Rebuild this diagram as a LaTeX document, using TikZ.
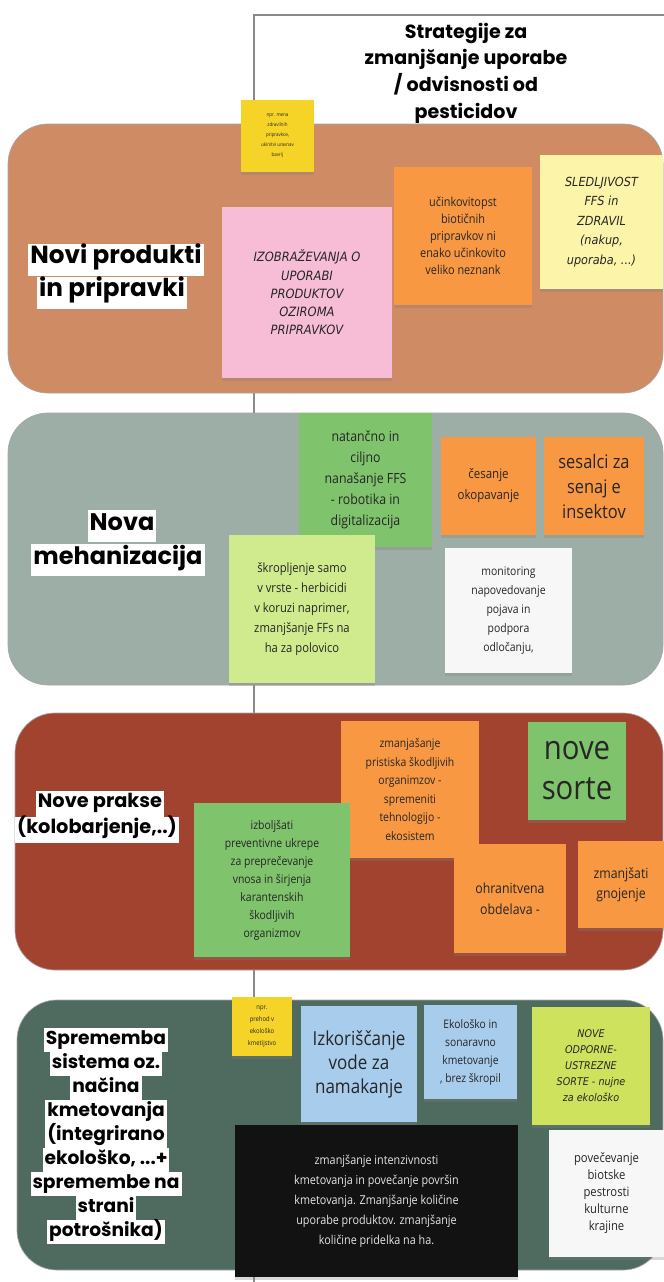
\documentclass[tikz,border=0pt]{standalone}
\usepackage{fontspec}
\setmainfont{Open Sans}
\newfontfamily\pop{Poppins}
\newfontfamily\notef{Open Sans}[FakeStretch=0.88]
\newfontfamily\handf{DejaVu Sans}[FakeStretch=0.9]
\usetikzlibrary{shadows}
\definecolor{bandA}{HTML}{CE8B64}
\definecolor{bandB}{HTML}{9DAEA6}
\definecolor{bandC}{HTML}{A1432F}
\definecolor{bandD}{HTML}{4F6B5F}
\definecolor{cyellow}{HTML}{F5D327}
\definecolor{cpink}{HTML}{F7BDD6}
\definecolor{corange}{HTML}{F89843}
\definecolor{clyellow}{HTML}{FCF4A8}
\definecolor{cgreen}{HTML}{7FC36D}
\definecolor{clgreen}{HTML}{CFEB8E}
\definecolor{cwhite}{HTML}{F7F7F7}
\definecolor{cblue}{HTML}{A8CCEC}
\definecolor{cygreen}{HTML}{CFE25D}
\definecolor{cblack}{HTML}{121212}
\definecolor{frame}{HTML}{8A8A8A}
\tikzset{
  band/.style={rounded corners=30pt, draw=black!35, line width=0.5pt},
  note/.style={rectangle, inner sep=0pt, align=center, text=black!85,
    drop shadow={shadow xshift=0pt, shadow yshift=-2.5pt, opacity=0.3}},
  lab/.style={fill=white, inner xsep=1.5pt, inner ysep=0pt, text=black},
  labA/.style={lab, font=\labfont{18.5}, text height=15pt, text depth=9.5pt},
  labB/.style={lab, font=\labfont{18}, text height=15pt, text depth=8.5pt},
  labC/.style={lab, font=\labfont{14.5}, text height=12.5pt, text depth=7pt},
  labD/.style={lab, font=\labfont{14}, text height=12pt, text depth=6pt},
}
% name, x1, y1, x2, y2, note options, font, text
\newcommand\stickynote[8]{%
  \node[note, #6, font={#7}, minimum width={(#4-#2)*0.75pt}, minimum height={(#5-#3)*0.75pt}]
    (#1) at ({(#2+#4)/2},{(#3+#5)/2}) {#8};}
\newcommand\labfont[1]{\pop\bfseries\fontsize{#1}{#1}\selectfont}
\begin{document}
\begin{tikzpicture}[x=0.75pt, y=-0.75pt]
\useasboundingbox (0,0) rectangle (664,1282);
\fill[white] (0,0) rectangle (664,1282);
% frame of the title
\coordinate (ftop) at (664,15);
\coordinate (fcorner) at (254,15);
\coordinate (fbottom) at (254,1282);
\draw[frame, line width=0.8pt] (ftop) -- (fcorner) -- (fbottom);
\node[font=\pop\bfseries\fontsize{14.3}{20}\selectfont, align=center] (title) at (466,73)
  {Strategije za\\zmanjšanje uporabe\\/ odvisnosti od\\pesticidov};
% bands
\draw[band, fill=bandA] (8,124) rectangle (663,393);
\draw[band, fill=bandB] (8,413) rectangle (663,685);
\draw[band, fill=bandC] (15,713) rectangle (663,970);
\draw[band, fill=bandD] (17,1000) rectangle (663,1270);
% band 1
\stickynote{ya}{241}{100}{314}{172}{fill=cyellow}{\notef\fontsize{3.8}{7.5}\selectfont}{npr. mena\\zdravilnih\\pripravkov,\\ukinitvi uravnav\\bavrij}
\node[labA] (l1a) at (116,260) {Novi produkti};
\node[labA] (l1b) at (112,293) {in pripravki};
\stickynote{pk}{222}{207}{392}{378}{fill=cpink}{\handf\itshape\fontsize{9.6}{13.7}\selectfont}{IZOBRAŽEVANJA O\\UPORABI\\PRODUKTOV\\OZIROMA\\PRIPRAVKOV}
\stickynote{oa}{394}{167}{532}{305}{fill=corange}{\notef\fontsize{9.3}{12.75}\selectfont}{učinkovitopst\\biotičnih\\pripravkov ni\\enako učinkovito\\veliko neznank}
\stickynote{lya}{540}{155}{663}{289}{fill=clyellow}{\handf\itshape\fontsize{9.4}{14.6}\selectfont}{SLEDLJIVOST\\FFS in\\ZDRAVIL\\(nakup,\\uporaba, ...)}
% band 2
\node[labB] (l2a) at (122,526) {Nova};
\node[labB] (l2b) at (118,560) {mehanizacija};
\stickynote{gb}{299}{413}{432}{547}{fill=cgreen}{\notef\fontsize{10.5}{15.75}\selectfont}{natančno in\\ciljno\\nanašanje FFS\\- robotika in\\digitalizacija}
\stickynote{ob1}{441}{437}{536}{535}{fill=corange}{\notef\fontsize{9.8}{15.75}\selectfont}{česanje\\okopavanje}
\stickynote{ob2}{544}{437}{644}{535}{fill=corange}{\notef\fontsize{14}{18.75}\selectfont}{sesalci za\\senaj e\\insektov}
\stickynote{lgb}{229}{535}{375}{683}{fill=clgreen}{\notef\fontsize{9.6}{15}\selectfont}{škropljenje samo\\v vrste - herbicidi\\v koruzi naprimer,\\zmanjšanje FFs na\\ha za polovico}
\stickynote{wb}{445}{548}{572}{673}{fill=cwhite}{\notef\fontsize{8.9}{14.25}\selectfont}{monitoring\\napovedovanje\\pojava in\\podpora\\odločanju,}
% band 3
\node[labC] (l3a) at (100,804) {Nove prakse};
\node[labC] (l3b) at (97,830) {(kolobarjenje,..)};
\stickynote{oc1}{341}{721}{479}{858}{fill=corange}{\notef\fontsize{8.9}{13.9}\selectfont}{zmanjašanje\\pristiska škodljivih\\organimzov -\\spremeniti\\tehnologijo -\\ekosistem}
\stickynote{gc1}{528}{722}{626}{820}{fill=cgreen}{\notef\fontsize{25}{30}\selectfont}{nove\\sorte}
\stickynote{gc2}{194}{803}{350}{957}{fill=cgreen}{\notef\fontsize{8.9}{13.5}\selectfont}{izboljšati\\preventivne ukrepe\\za preprečevanje\\vnosa in širjenja\\karantenskih\\škodljivih\\organizmov}
\stickynote{oc2}{454}{844}{566}{953}{fill=corange}{\notef\fontsize{10.5}{15.75}\selectfont}{ohranitvena\\obdelava -}
\stickynote{oc3}{578}{841}{664}{928}{fill=corange}{\notef\fontsize{10.5}{15}\selectfont}{zmanjšati\\gnojenje}
% band 4
\stickynote{yd}{232}{997}{292}{1056}{fill=cyellow}{\notef\fontsize{5}{9}\selectfont}{npr.\\prehod v\\ekološko\\kmetijstvo}
\node[labD] (l41) at (106,1040) {Sprememba};
\node[labD] (l42) at (106,1064) {sistema oz.};
\node[labD] (l43) at (106,1088) {načina};
\node[labD] (l44) at (106,1112) {kmetovanja};
\node[labD] (l45) at (106,1136) {(integrirano};
\node[labD] (l46) at (106,1160) {ekološko, ...+};
\node[labD] (l47) at (106,1184) {spremembe na};
\node[labD] (l48) at (106,1208) {strani};
\node[labD] (l49) at (106,1232) {potrošnika)};
\stickynote{bd1}{301}{1006}{417}{1122}{fill=cblue}{\notef\fontsize{14.5}{18}\selectfont}{Izkoriščanje\\vode za\\namakanje}
\stickynote{bd2}{424}{1005}{517}{1099}{fill=cblue}{\notef\fontsize{8.8}{13.5}\selectfont}{Ekološko in\\sonaravno\\kmetovanje\\, brez škropil}
\stickynote{ygd}{532}{1007}{650}{1125}{fill=cygreen}{\handf\itshape\fontsize{8}{12}\selectfont}{NOVE\\ODPORNE-\\USTREZNE\\SORTE - nujne\\za ekološko}
\stickynote{kd}{235}{1125}{518}{1277}{fill=cblack, text=white!90!black}{\notef\fontsize{9.2}{15}\selectfont}{zmanjšanje intenzivnosti\\kmetovanja in povečanje površin\\kmetovanja. Zmanjšanje količine\\uporabe produktov. zmanjšanje\\količine pridelka na ha.}
\stickynote{wd}{549}{1130}{664}{1257}{fill=cwhite}{\notef\fontsize{9.6}{12.75}\selectfont}{povečevanje\\biotske\\pestrosti\\kulturne\\krajine}
\end{tikzpicture}
\end{document}
